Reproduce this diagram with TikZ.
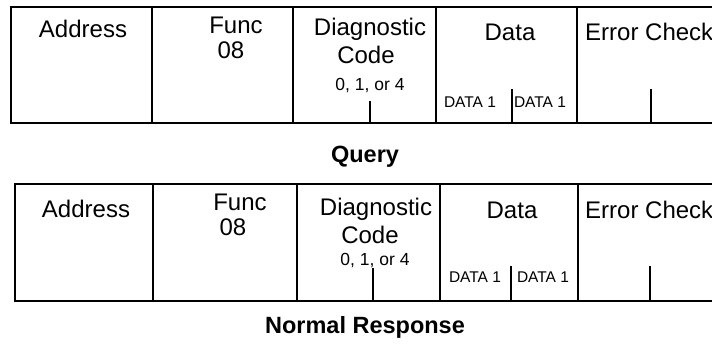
\documentclass[tikz,border=0pt]{standalone}
\usepackage{fontspec}
\setmainfont{Liberation Sans}
\begin{document}
\begin{tikzpicture}[x=1pt,y=-1pt,
  lbl/.style={font=\fontsize{24}{28}\selectfont, anchor=base, inner sep=0pt},
  sml/.style={font=\fontsize{17.5}{20}\selectfont, anchor=base, inner sep=0pt},
  tny/.style={font=\fontsize{15.5}{18}\selectfont, anchor=base, inner sep=0pt},
  ttl/.style={font=\fontsize{23.5}{28}\selectfont\bfseries, anchor=base, inner sep=0pt},
  rule/.style={draw=black, line width=1.8pt},
  tick/.style={draw=black, line width=1.5pt}]
\clip (0,0) rectangle (712,349);
\fill[white] (0,0) rectangle (712,349);
% ---------- Query table ----------
\draw[rule] (712,7) -- (11,7) -- (11,123) -- (712,123);
\draw[rule] (152,7) -- (152,123);
\draw[rule] (293,7) -- (293,123);
\draw[rule] (436,7) -- (436,123);
\draw[rule] (577,7) -- (577,123);
\draw[tick] (370,101) -- (370,123);
\draw[tick] (512,89) -- (512,123);
\draw[tick] (651,89) -- (651,123);
\node[lbl] (qaddr) at (83,37) {Address};
\node[lbl] (qfunc) at (236,33) {Func};
\node[lbl] (qfnum) at (231,58) {08};
\node[lbl] (qdiag) at (370,35) {Diagnostic};
\node[lbl] (qcode) at (366,63) {Code};
\node[sml] (qsub) at (370,90) {0, 1, or 4};
\node[lbl] (qdata) at (510,40) {Data};
\node[lbl, anchor=base west] (qerr) at (585,40) {Error Check};
\node[tny] (qd1) at (470,107) {DATA 1};
\node[tny] (qd2) at (540,107) {DATA 1};
\node[ttl] (query) at (365,162) {Query};
% ---------- Normal response table ----------
\draw[rule] (712,184) -- (15,184) -- (15,301) -- (712,301);
\draw[rule] (153,184) -- (153,301);
\draw[rule] (297,184) -- (297,301);
\draw[rule] (440,184) -- (440,301);
\draw[rule] (578,184) -- (578,301);
\draw[tick] (373,268) -- (373,301);
\draw[tick] (511,266) -- (511,301);
\draw[tick] (650,266) -- (650,301);
\node[lbl] (raddr) at (86,217) {Address};
\node[lbl] (rfunc) at (240,210) {Func};
\node[lbl] (rfnum) at (233,235) {08};
\node[lbl] (rdiag) at (376,215) {Diagnostic};
\node[lbl] (rcode) at (370,243) {Code};
\node[sml] (rsub) at (375,265) {0, 1, or 4};
\node[lbl] (rdata) at (512,218) {Data};
\node[lbl, anchor=base west] (rerr) at (585,218) {Error Check};
\node[tny] (rd1) at (475,282) {DATA 1};
\node[tny] (rd2) at (543,282) {DATA 1};
\node[ttl] (resp) at (365,333) {Normal Response};
\end{tikzpicture}
\end{document}
